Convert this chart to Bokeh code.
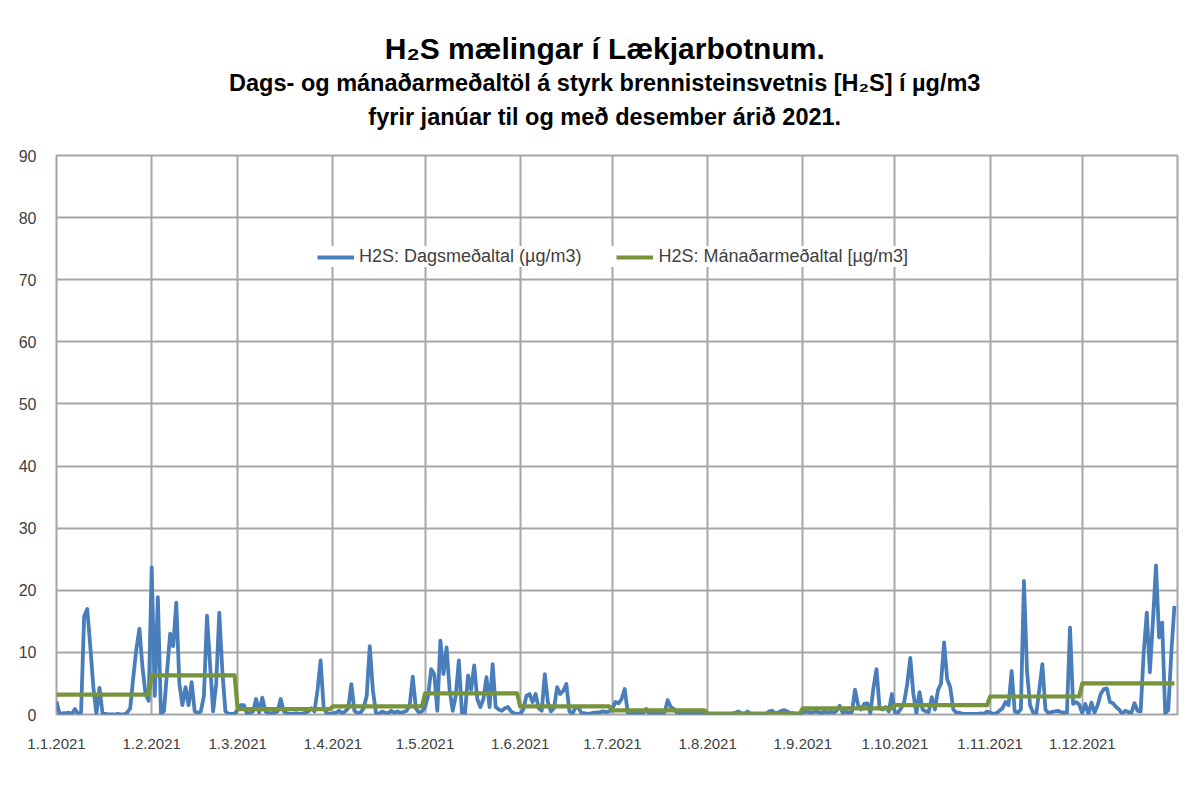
import numpy as np
from bokeh.plotting import figure
from bokeh.layouts import column
from bokeh.models import Range1d, FixedTicker, Legend, LegendItem
from bokeh.core.properties import value
from bokeh.embed import file_html
from bokeh.resources import INLINE

# ---------------- data ----------------
MONTH_LABELS = ["1.1.2021", "1.2.2021", "1.3.2021", "1.4.2021", "1.5.2021", "1.6.2021",
                "1.7.2021", "1.8.2021", "1.9.2021", "1.10.2021", "1.11.2021", "1.12.2021"]
DAYS_IN_MONTH = [31, 28, 31, 30, 31, 30, 31, 31, 30, 31, 30, 31]
Y_TICKS = [0, 10, 20, 30, 40, 50, 60, 70, 80, 90]

# monthly mean H2S [µg/m3]
MONTHLY_MEAN = [3.2, 6.3, 0.85, 1.3, 3.4, 1.3, 0.65, 0.15, 1.0, 1.5, 2.9, 5.0]

# daily mean H2S [µg/m3], per month
DAILY_JAN = [2.1, 0.1, 0.2, 0.2, 0.3, 0.1, 0.9, 0.1, 0.3, 15.8, 17.0, 11.0, 4.4, 0.1, 4.3, 0.1,
             0.1, 0.0, 0.0, 0.0, 0.1, 0.0, 0.0, 0.3, 1.0, 6.0, 10.5, 13.8, 7.6, 3.3, 2.2]
DAILY_FEB = [23.7, 3.0, 18.9, 0.2, 0.5, 7.0, 13.0, 11.0, 18.0, 5.0, 1.5, 4.4, 1.5, 5.2,
             0.5, 0.3, 0.5, 3.0, 15.9, 8.0, 0.5, 5.0, 16.4, 7.0, 0.5, 0.1, 0.1, 0.1]
DAILY_MAR = [0.8, 1.5, 1.5, 0.2, 0.2, 0.5, 2.5, 0.3, 2.7, 0.5, 0.2, 0.2, 0.3, 0.5, 2.5, 0.5,
             0.2, 0.1, 0.1, 0.2, 0.1, 0.1, 0.3, 0.5, 1.0, 0.5, 4.0, 8.7, 1.0, 0.2, 0.1]
DAILY_APR = [0.2, 0.3, 0.6, 0.2, 0.5, 1.0, 4.9, 0.6, 0.2, 0.3, 1.0, 3.0, 11.0, 4.0, 0.3,
             0.1, 0.5, 0.3, 0.2, 0.6, 0.3, 0.5, 0.3, 0.4, 0.6, 1.5, 6.1, 1.0, 0.3, 0.5]
DAILY_MAY = [1.2, 3.0, 7.3, 6.5, 0.6, 11.9, 6.5, 10.8, 4.0, 0.6, 3.0, 8.7, 0.3, 0.2, 6.3, 4.0,
             7.9, 2.5, 1.2, 2.5, 6.0, 1.2, 8.1, 1.2, 0.8, 0.6, 1.0, 1.2, 0.5, 0.2, 0.1]
DAILY_JUN = [0.1, 0.8, 3.0, 3.3, 2.0, 3.3, 1.0, 0.6, 6.5, 2.0, 0.5, 1.0, 4.4, 3.3, 3.8,
             4.9, 0.5, 0.1, 1.2, 1.0, 0.2, 0.2, 0.1, 0.2, 0.3, 0.3, 0.4, 0.5, 0.4, 0.5]
DAILY_JUL = [1.0, 2.0, 1.8, 2.5, 4.1, 0.3, 0.1, 0.1, 0.1, 0.1, 0.2, 0.9, 0.1, 0.1, 0.1, 0.1,
             0.1, 0.3, 2.3, 1.2, 0.9, 0.3, 0.1, 0.1, 0.1, 0.1, 0.1, 0.1, 0.1, 0.1, 0.1]
DAILY_AUG = [0.05, 0.05, 0.05, 0.05, 0.05, 0.05, 0.05, 0.05, 0.1, 0.3, 0.5, 0.2, 0.1, 0.5,
             0.1, 0.05, 0.05, 0.05, 0.05, 0.05, 0.5, 0.6, 0.2, 0.3, 0.6, 0.7, 0.5, 0.2, 0.2,
             0.1, 0.1]
DAILY_SEP = [0.3, 0.5, 0.4, 0.3, 0.5, 0.4, 0.2, 0.5, 0.3, 0.5, 0.3, 0.6, 1.4, 0.3, 0.5,
             0.3, 0.4, 4.0, 1.5, 0.8, 1.7, 1.8, 0.2, 4.3, 7.3, 1.0, 0.8, 1.2, 0.5, 3.3]
DAILY_OCT = [0.3, 0.3, 1.0, 2.0, 4.9, 9.1, 3.3, 0.2, 3.6, 0.8, 0.5, 0.4, 2.8, 0.8, 3.9, 5.0,
             11.6, 5.7, 4.4, 0.8, 0.3, 0.3, 0.1, 0.1, 0.1, 0.1, 0.1, 0.1, 0.2, 0.1, 0.5]
DAILY_NOV = [0.3, 0.1, 0.2, 0.6, 1.0, 2.0, 1.5, 7.0, 0.5, 0.3, 0.8, 21.5, 7.0, 1.5, 0.3,
             0.1, 4.0, 8.1, 0.8, 0.2, 0.4, 0.5, 0.6, 0.4, 0.3, 0.3, 14.0, 1.7, 2.0, 1.6]
DAILY_DEC = [0.2, 1.7, 0.1, 1.9, 0.3, 1.5, 3.3, 4.1, 4.2, 2.0, 1.8, 1.2, 0.8, 0.1, 0.6, 0.4,
             0.3, 1.8, 0.6, 0.5, 10.0, 16.4, 6.8, 15.0, 24.0, 12.4, 14.8, 0.2, 0.7, 10.0, 17.5]

LEGEND_DAILY = "H2S: Dagsmeðaltal (µg/m3)"
LEGEND_MONTHLY = "H2S: Mánaðarmeðaltal [µg/m3]"
TITLE_1 = "H\u2082S mælingar í Lækjarbotnum."
TITLE_2 = "Dags- og mánaðarmeðaltöl á styrk brennisteinsvetnis [H\u2082S] í µg/m3"
TITLE_3 = "fyrir janúar til og með desember árið 2021."

# ---------------- build series ----------------
daily = (DAILY_JAN + DAILY_FEB + DAILY_MAR + DAILY_APR + DAILY_MAY + DAILY_JUN +
         DAILY_JUL + DAILY_AUG + DAILY_SEP + DAILY_OCT + DAILY_NOV + DAILY_DEC)
n_days = sum(DAYS_IN_MONTH)
assert len(daily) == n_days
day_index = list(range(n_days))
monthly_per_day = [float(v) for v in np.repeat(MONTHLY_MEAN, DAYS_IN_MONTH)]
month_starts = [int(v) for v in np.concatenate([[0], np.cumsum(DAYS_IN_MONTH)[:-1]])]

FONT = "Liberation Sans"
GRID = "#a6a6a6"
TICK_TXT = "#404040"
W = 1190
TITLE_H = 145

# ---------------- title strip ----------------
tf = figure(width=W, height=TITLE_H, x_range=Range1d(0, W), y_range=Range1d(TITLE_H, 0),
            output_backend="svg", toolbar_location=None, title=None,
            x_axis_location=None, y_axis_location=None,
            min_border_left=0, min_border_right=0, min_border_top=0, min_border_bottom=0)
tf.grid.visible = False
tf.outline_line_color = None
tf.background_fill_color = "white"
tf.border_fill_color = "white"
for txt, base, size in ((TITLE_1, 48, "30px"), (TITLE_2, 82, "23.5px"), (TITLE_3, 116, "23.5px")):
    tf.text(x=[582], y=[base], text=[txt], text_align="center", text_baseline="alphabetic",
            text_font=value(FONT), text_font_size=size, text_font_style="bold",
            text_color="black")

# ---------------- main chart ----------------
p = figure(width=W, height=652, x_range=Range1d(0, n_days), y_range=Range1d(0, 90),
           output_backend="svg", toolbar_location=None, title=None,
           min_border_left=56, min_border_right=13, min_border_top=10, min_border_bottom=83)
p.background_fill_color = "white"
p.border_fill_color = "white"
p.outline_line_color = GRID
p.outline_line_width = 2

p.xaxis.ticker = FixedTicker(ticks=month_starts)
p.xaxis.major_label_overrides = {d: lab for d, lab in zip(month_starts, MONTH_LABELS)}
p.yaxis.ticker = FixedTicker(ticks=Y_TICKS)
for ax in (p.xaxis, p.yaxis):
    ax.axis_line_color = None
    ax.major_tick_line_color = None
    ax.minor_tick_line_color = None
    ax.major_label_text_font = FONT
    ax.major_label_text_color = TICK_TXT
p.xaxis.major_label_text_font_size = "15px"
p.yaxis.major_label_text_font_size = "16px"
p.xaxis.major_label_standoff = 18
p.yaxis.major_label_standoff = 14

p.xgrid.grid_line_color = GRID
p.ygrid.grid_line_color = GRID
p.xgrid.grid_line_width = 2
p.ygrid.grid_line_width = 2

r_daily = p.line(day_index, daily, line_color="#4a7ebb", line_width=3.8, line_join="round")
r_month = p.line(day_index, monthly_per_day, line_color="#77933c", line_width=4.2, line_join="round")

legend = Legend(items=[LegendItem(label=LEGEND_DAILY, renderers=[r_daily]),
                       LegendItem(label=LEGEND_MONTHLY, renderers=[r_month])],
                orientation="horizontal", location=(261, 447),
                glyph_width=37, glyph_height=20, label_standoff=5, spacing=35,
                padding=8, margin=0,
                label_text_font=FONT, label_text_font_size="18px", label_text_color=TICK_TXT,
                background_fill_color="white", background_fill_alpha=1.0,
                border_line_color=None)
p.add_layout(legend)

layout = column(tf, p, spacing=0)
open("out.html", "w").write(file_html(layout, INLINE))
